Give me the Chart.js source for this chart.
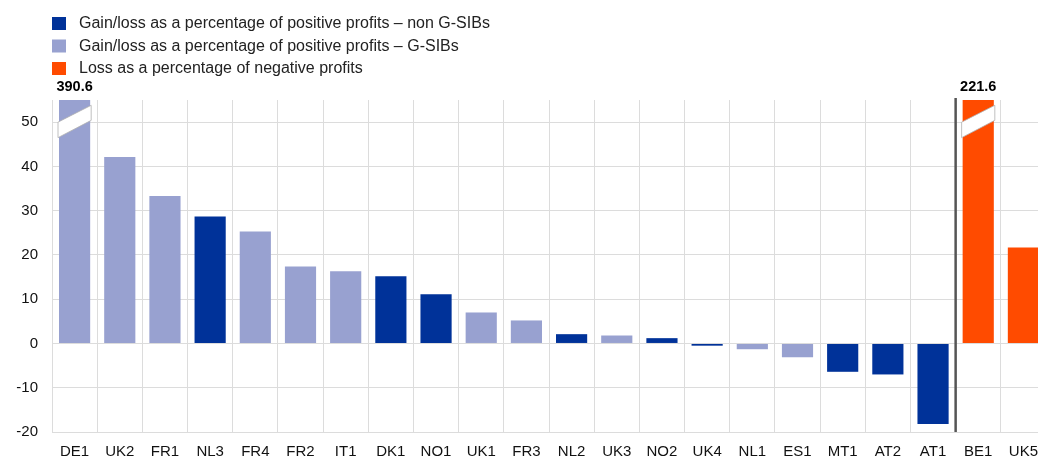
<!DOCTYPE html>
<html>
<head>
<meta charset="utf-8">
<script src="https://cdn.jsdelivr.net/npm/chart.js@4"></script>
<style>
  html, body { margin: 0; padding: 0; background: #fff; overflow: hidden; }
  #wrap { width: 1050px; height: 457px; }
</style>
</head>
<body>
<div id="wrap"><canvas id="chart"></canvas></div>
<script>
// categories (banks) and values (%)
const banks = ['DE1', 'UK2', 'FR1', 'NL3', 'FR4', 'FR2', 'IT1', 'DK1', 'NO1', 'UK1', 'FR3',
  'NL2', 'UK3', 'NO2', 'UK4', 'NL1', 'ES1', 'MT1', 'AT2', 'AT1', 'BE1', 'UK5'];
const nonGsib = [null, null, null, 28.7, null, null, null, 15.2, 11.1, null, null,
  2.1, null, 1.2, -0.5, null, null, -6.4, -7.0, -18.2, null, null];
const gsib = [390.6, 42.1, 33.3, null, 25.3, 17.4, 16.3, null, null, 7.0, 5.2,
  null, 1.8, null, null, -1.3, -3.1, null, null, null, null, null];
const negProfits = [null, null, null, null, null, null, null, null, null, null, null,
  null, null, null, null, null, null, null, null, null, 221.6, 21.7];
const seriesNames = [
  'Gain/loss as a percentage of positive profits \u2013 non G-SIBs',
  'Gain/loss as a percentage of positive profits \u2013 G-SIBs',
  'Loss as a percentage of negative profits'
];
const yTicks = [-20, -10, 0, 10, 20, 30, 40, 50];
const yMin = -20, yMax = 55;

const colors = ['#003299', '#98a1d0', '#ff4b00'];
Chart.defaults.font.family = 'Arial, "Liberation Sans", sans-serif';
Chart.defaults.font.size = 15;
Chart.defaults.color = '#000';

// legend drawn as a column at top-left
const columnLegend = {
  id: 'columnLegend',
  afterDraw(chart) {
    const ctx = chart.ctx;
    ctx.save();
    ctx.font = '16px Arial, "Liberation Sans", sans-serif';
    ctx.textBaseline = 'middle';
    chart.data.datasets.forEach((ds, i) => {
      const y = 23 + i * 22.5;
      ctx.fillStyle = ds.backgroundColor;
      ctx.fillRect(52, y - 6, 14, 13);
      ctx.fillStyle = '#222';
      ctx.fillText(ds.label, 79, y + 1);
    });
    ctx.restore();
  }
};

// axis-break marks, value labels for clipped bars and the separator line
const breaks = {
  id: 'breaks',
  afterDatasetsDraw(chart) {
    const ctx = chart.ctx;
    const y = chart.scales.y, x = chart.scales.x;
    const area = chart.chartArea;
    ctx.save();
    chart.data.datasets.forEach((ds, di) => {
      const meta = chart.getDatasetMeta(di);
      meta.data.forEach((bar, i) => {
        const v = ds.data[i];
        if (v == null || v <= yMax) return;
        const l = bar.x - bar.width / 2, r = bar.x + bar.width / 2;
        ctx.beginPath();
        ctx.moveTo(l - 1, y.getPixelForValue(50));
        ctx.lineTo(r + 1, y.getPixelForValue(53.8));
        ctx.lineTo(r + 1, y.getPixelForValue(50.4));
        ctx.lineTo(l - 1, y.getPixelForValue(46.5));
        ctx.closePath();
        ctx.fillStyle = '#fff';
        ctx.fill();
        ctx.strokeStyle = '#b0b0b0';
        ctx.lineWidth = 0.8;
        ctx.stroke();
        ctx.fillStyle = '#000';
        ctx.font = 'bold 14.5px Arial, "Liberation Sans", sans-serif';
        ctx.textAlign = 'center';
        ctx.textBaseline = 'bottom';
        ctx.fillText(v.toFixed(1), bar.x, area.top - 6);
      });
    });
    // separator between AT1 and BE1
    const sx = (x.getPixelForValue(19) + x.getPixelForValue(20)) / 2;
    ctx.beginPath();
    ctx.moveTo(sx, area.top - 2);
    ctx.lineTo(sx, area.bottom);
    ctx.strokeStyle = '#555';
    ctx.lineWidth = 2.5;
    ctx.stroke();
    ctx.restore();
  }
};

new Chart(document.getElementById('chart'), {
  type: 'bar',
  data: {
    labels: banks,
    datasets: [
      { label: seriesNames[0], data: nonGsib, backgroundColor: colors[0] },
      { label: seriesNames[1], data: gsib, backgroundColor: colors[1] },
      { label: seriesNames[2], data: negProfits, backgroundColor: colors[2] }
    ]
  },
  options: {
    responsive: true,
    maintainAspectRatio: false,
    animation: false,
    layout: { padding: { top: 100, right: 4, left: 0, bottom: 0 } },
    datasets: { bar: { barPercentage: 0.69, categoryPercentage: 1 } },
    plugins: { legend: { display: false }, tooltip: { enabled: false } },
    scales: {
      x: {
        stacked: true,
        grid: { color: '#dcdcdc', drawTicks: false, offset: true },
        border: { color: '#dcdcdc' },
        ticks: { padding: 11, maxRotation: 0, autoSkip: false, color: '#111' },
        afterFit: s => { s.height = 25; }
      },
      y: {
        stacked: true,
        min: yMin,
        max: yMax,
        grid: { color: '#dcdcdc', drawTicks: false },
        border: { display: false },
        ticks: { stepSize: 10, padding: 14, color: '#111' },
        afterBuildTicks: s => { s.ticks = yTicks.map(v => ({ value: v })); },
        afterFit: s => { s.width = 52; }
      }
    }
  },
  plugins: [columnLegend, breaks]
});
</script>
</body>
</html>
